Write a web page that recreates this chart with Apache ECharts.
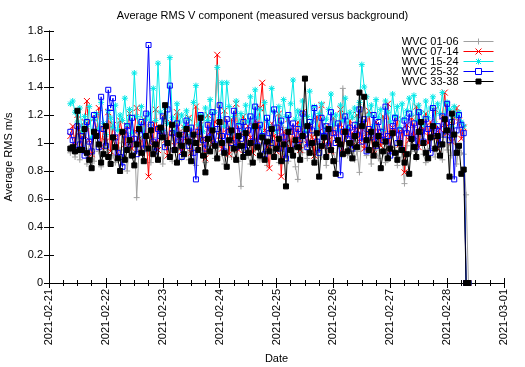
<!DOCTYPE html>
<html>
<head>
<meta charset="utf-8">
<script src="https://cdn.jsdelivr.net/npm/echarts@6/dist/echarts.min.js"></script>
<style>
html,body{margin:0;padding:0;background:#fff;}
#chart{width:525px;height:367px;}
</style>
</head>
<body>
<div id="chart"></div>
<script>
// ---- data (hourly samples, first sample 2021-02-21 09:00) ----
const titleText = 'Average RMS V component (measured versus background)';
const xAxisName = 'Date';
const yAxisName = 'Average RMS m/s';
const seriesNames = ['WVC 01-06', 'WVC 07-14', 'WVC 15-24', 'WVC 25-32', 'WVC 33-38'];
const xTickLabels = ['2021-02-21','2021-02-22','2021-02-23','2021-02-24','2021-02-25','2021-02-26','2021-02-27','2021-02-28','2021-03-01'];
const yTickLabels = ['0','0.2','0.4','0.6','0.8','1','1.2','1.4','1.6','1.8'];
const startHour = 9;   // hours after 2021-02-21 00:00 of the first sample
const stepHours = 1;   // sampling step

const wvc01_06 = [
0.93,0.98,0.90,1.05,0.88,1.12,0.96,0.85,1.01,0.92,0.87,1.10,0.94,0.83,1.03,0.97,0.89,1.15,0.91,0.86,1.00,0.95,0.84,1.07,
0.80,0.99,0.92,1.08,0.61,0.95,1.02,0.88,1.13,0.93,0.86,1.04,0.97,0.90,1.11,0.85,0.99,1.06,0.92,0.87,1.02,0.95,1.09,0.89,
0.96,1.03,0.88,0.93,1.10,0.84,0.99,1.05,0.91,0.86,1.01,0.94,1.16,0.89,0.97,1.07,0.92,0.85,1.00,1.12,0.90,0.95,1.04,0.87,
0.69,0.98,1.06,0.91,0.85,1.02,0.95,1.14,0.88,0.93,1.00,0.84,1.09,0.97,0.90,1.05,0.86,0.94,1.11,0.92,0.87,1.01,0.96,0.83,
0.74,1.04,0.93,1.08,0.89,0.97,1.12,0.86,0.95,1.01,0.90,1.06,0.84,0.98,1.10,0.93,0.87,1.03,0.96,1.39,1.15,0.91,0.99,1.05,
0.88,0.94,0.79,1.07,0.97,0.91,1.02,0.85,1.10,0.95,0.89,1.04,0.93,0.86,1.00,1.08,0.92,0.97,0.84,1.03,0.90,0.71,0.98,1.06,
0.94,1.11,0.89,0.99,1.05,0.92,0.86,1.02,0.96,1.09,0.90,0.97,1.04,0.88,1.13,0.95,1.00,0.91,1.07,0.85,0.98,0.93,0.92,
0.63,0
];
const wvc07_14 = [
1.05,1.12,0.98,1.20,1.08,0.95,1.15,1.30,1.02,0.92,1.18,1.06,1.25,0.97,1.10,1.01,1.22,0.94,1.13,1.04,0.90,1.16,1.07,0.99,
1.12,1.21,0.96,1.08,1.25,1.03,0.93,1.17,1.06,0.76,1.14,1.00,1.24,0.95,1.09,1.19,1.02,0.91,1.15,1.07,0.98,1.22,1.04,0.94,
1.11,1.01,1.18,0.93,1.06,1.26,0.97,1.13,1.03,0.89,1.20,1.08,0.99,1.15,1.63,1.05,0.96,1.23,1.10,0.92,1.17,1.01,1.28,0.95,
1.07,1.19,0.98,1.12,1.04,0.93,1.16,1.02,1.25,1.43,1.09,0.97,0.82,1.14,1.05,0.94,1.21,0.76,1.08,1.00,1.17,0.96,1.11,1.03,
1.15,0.95,1.22,1.06,0.99,1.13,1.04,0.91,1.19,1.08,1.27,0.97,1.12,1.02,0.94,1.18,1.07,1.00,1.24,0.93,1.10,1.05,1.16,0.98,
1.09,1.20,1.01,1.14,0.96,1.07,1.23,1.03,0.92,1.15,1.08,0.98,1.19,1.04,1.28,0.95,1.11,1.06,1.17,0.99,1.10,0.79,1.13,1.02,
1.18,1.05,1.26,0.97,1.12,1.08,1.21,1.00,1.15,1.04,1.24,0.96,1.10,1.19,1.36,1.07,1.14,1.01,1.18,1.25,1.16,1.03,1.11,
0,0
];
const wvc15_24 = [
1.28,1.30,1.22,1.15,1.25,1.08,1.19,1.12,1.26,1.04,1.17,1.21,1.10,1.29,1.14,1.06,1.23,1.18,1.11,1.27,1.09,1.20,1.16,1.32,
1.13,1.24,1.07,1.50,1.19,1.12,1.26,1.05,1.17,1.21,1.10,1.39,1.16,1.57,1.22,1.09,1.25,1.14,1.61,1.18,1.08,1.28,1.15,1.20,
1.11,1.23,1.17,1.06,1.29,1.41,1.13,1.20,1.08,1.25,1.16,1.31,1.10,1.22,1.54,1.18,1.43,1.12,1.43,1.26,1.07,1.19,1.30,1.14,
1.21,1.09,1.27,1.15,1.33,1.11,1.38,1.18,1.24,1.06,1.29,1.16,1.12,1.39,1.22,1.08,1.26,1.14,1.31,1.19,1.10,1.28,1.45,1.17,
1.23,1.12,1.30,1.08,1.19,1.37,1.15,1.26,1.10,1.21,1.28,1.06,1.17,1.24,1.35,1.13,1.20,1.09,1.27,1.16,1.32,1.11,1.22,1.18,
1.25,1.14,1.29,1.56,1.40,1.33,1.20,1.27,1.12,1.31,1.18,1.24,1.09,1.30,1.22,1.15,1.35,1.19,1.26,1.11,1.28,1.17,1.23,1.32,
1.20,1.34,1.16,1.27,1.22,1.13,1.30,1.18,1.25,1.33,1.14,1.28,1.21,1.36,1.17,1.29,1.24,1.12,1.26,1.19,1.22,1.15,1.12,
0,0
];
const wvc25_32 = [
1.08,1.02,0.95,1.12,0.99,1.05,0.91,1.15,1.01,0.94,1.20,1.07,0.97,1.33,1.10,0.98,1.38,1.25,1.32,1.04,0.93,0.90,0.83,1.06,
1.12,0.99,1.18,1.03,0.92,1.09,1.15,0.96,1.21,1.70,1.13,1.01,0.94,1.10,1.05,1.19,0.97,1.24,1.41,1.07,0.95,1.14,1.02,0.90,
1.06,1.16,0.98,1.11,0.93,0.74,1.08,1.20,1.02,0.96,1.13,1.04,1.22,0.99,1.10,1.27,1.05,0.94,1.17,1.08,1.00,1.23,0.97,1.12,
1.03,1.15,0.95,1.09,1.19,1.01,1.26,0.98,1.13,1.05,0.92,1.18,1.07,1.00,1.24,1.11,0.96,1.16,1.04,0.89,1.20,1.08,1.14,0.99,
1.10,1.02,1.21,1.06,0.97,1.15,1.09,1.25,1.01,0.93,1.18,1.05,1.12,0.98,1.22,1.07,1.00,1.14,0.77,1.08,1.19,1.03,1.11,0.96,
1.13,1.06,1.24,1.01,1.17,0.94,1.10,1.04,1.20,0.98,1.15,1.08,1.02,1.26,1.05,0.91,1.12,1.18,1.00,1.09,0.95,1.16,1.07,1.21,
1.03,1.14,0.97,1.22,1.08,1.01,1.17,1.10,0.93,1.25,1.05,1.12,0.99,1.19,1.06,1.28,1.02,1.15,0.74,1.09,1.20,1.13,1.07,
0,0
];
const wvc33_38 = [
0.96,0.97,0.94,1.23,0.95,0.95,1.10,0.93,0.88,0.82,1.08,1.05,0.99,0.86,0.92,1.12,0.90,0.85,1.04,0.97,0.89,0.80,1.08,0.88,
0.95,1.02,0.91,0.84,0.99,1.10,0.93,0.87,1.05,0.96,1.09,0.92,0.99,0.88,1.11,1.04,1.27,1.00,0.90,1.13,0.95,0.86,1.06,0.98,
0.92,1.10,1.01,0.87,1.06,1.00,0.95,1.18,0.91,0.79,1.03,0.94,1.09,0.98,0.89,1.15,1.00,0.93,0.83,1.02,1.09,0.96,0.88,1.05,
0.98,0.90,1.07,0.93,1.00,0.86,1.12,0.97,0.91,1.04,0.88,1.01,0.94,1.10,0.90,0.96,1.03,0.87,0.99,0.69,1.08,0.95,0.91,1.02,
0.97,0.88,1.05,1.46,1.12,0.93,1.00,0.86,1.07,0.76,0.98,1.04,0.90,1.10,0.95,0.87,0.78,1.02,0.99,0.92,1.08,0.94,1.00,0.89,
1.05,0.97,1.36,1.12,1.33,1.02,0.95,1.08,0.91,0.99,1.05,0.82,0.94,1.01,0.89,0.96,1.07,0.93,0.88,1.00,0.95,0.86,0.92,0.78,
1.03,0.97,0.90,1.08,1.15,1.00,0.93,0.89,1.04,1.12,0.96,1.05,0.91,0.99,1.17,1.09,0.76,1.21,1.06,0.93,0.98,0.78,0.81,
0,0
];

const FONT = '"Liberation Sans", Arial, sans-serif';
const seriesValues = [wvc01_06, wvc07_14, wvc15_24, wvc25_32, wvc33_38];
const colors = ['#a0a0a0', '#ff0000', '#00e8e8', '#0000ff', '#000000'];
const symbols = [
  'path://M0,4L8,4M4,0L4,8',
  'path://M0,0L8,8M8,0L0,8',
  'path://M0,4L8,4M4,0L4,8M1,1L7,7M7,1L1,7',
  'path://M0,0L8,0L8,8L0,8Z',
  'rect'
];
// legend samples: a line with the point marker in its middle (30 x 6 box)
const legendIcons = [
  'path://M0,3L30,3M15,0L15,6',
  'path://M0,3L30,3M12,0L18,6M18,0L12,6',
  'path://M0,3L30,3M15,0L15,6M12.5,0.5L17.5,5.5M17.5,0.5L12.5,5.5',
  'path://M0,3L12,3M18,3L30,3M12,0L18,0L18,6L12,6Z',
  'path://M0,3L30,3M12.5,0.5L17.5,0.5L17.5,5.5L12.5,5.5Z'
];
const fills = ['#a0a0a0', '#ff0000', '#00e8e8', 'rgba(0,0,0,0)', '#000000'];
const sizes = [6, 6, 6, 5, 5];

const chart = echarts.init(document.getElementById('chart'), null, {renderer: 'canvas'});

const series = seriesNames.map((name, k) => ({
  name: name,
  type: 'line',
  xAxisIndex: 0,
  yAxisIndex: 0,
  data: seriesValues[k].map((v, i) => [startHour + i * stepHours, v]),
  showAllSymbol: true,
  symbol: symbols[k],
  symbolSize: sizes[k],
  lineStyle: {color: colors[k], width: 1},
  itemStyle: {color: fills[k], borderColor: colors[k], borderWidth: 1},
  emphasis: {disabled: true},
  animation: false,
  z: 2 + k
}));

const legendData = seriesNames.map((name, k) => ({
  name: name,
  icon: legendIcons[k],
  itemStyle: {color: fills[k], borderColor: colors[k], borderWidth: 1, opacity: 1}
}));

const xBase = {
  type: 'value', min: 0, max: 192, interval: 24,
  axisLine: {show: true, lineStyle: {color: '#000', width: 1}},
  axisTick: {show: true, inside: true, length: 5, lineStyle: {color: '#000'}},
  minorTick: {show: true, splitNumber: 4, length: 3, lineStyle: {color: '#000'}},
  splitLine: {show: false}
};
const yBase = {
  type: 'value', min: 0, max: 1.8, interval: 0.2,
  axisLine: {show: true, lineStyle: {color: '#000', width: 1}},
  axisTick: {show: true, inside: true, length: 5, lineStyle: {color: '#000'}},
  splitLine: {show: false}
};

chart.setOption({
  backgroundColor: '#fff',
  animation: false,
  title: {
    text: titleText, left: 'center', top: 5,
    textStyle: {fontFamily: FONT, fontSize: 11, fontWeight: 'normal', color: '#000'}
  },
  grid: {left: 49, right: 21, top: 31, bottom: 84, containLabel: false, outerBoundsMode: 'none'},
  legend: {
    orient: 'vertical', right: 26, top: 31, align: 'right',
    itemWidth: 30, itemHeight: 6, itemGap: -1,
    selectedMode: false,
    textStyle: {fontFamily: FONT, fontSize: 11, color: '#000', lineHeight: 10.5},
    data: legendData
  },
  xAxis: [
    Object.assign({}, xBase, {
      position: 'bottom',
      name: xAxisName, nameLocation: 'middle', nameGap: 70,
      nameTextStyle: {fontFamily: FONT, fontSize: 11, color: '#000'},
      axisLabel: {
        rotate: 90, margin: 6, fontFamily: FONT, fontSize: 11, color: '#000',
        formatter: v => xTickLabels[Math.round(v / 24)] || ''
      }
    }),
    Object.assign({}, xBase, {position: 'top', axisLabel: {show: false}})
  ],
  yAxis: [
    Object.assign({}, yBase, {
      position: 'left',
      name: yAxisName, nameLocation: 'middle', nameGap: 35,
      nameTextStyle: {fontFamily: FONT, fontSize: 11, color: '#000'},
      axisLabel: {
        margin: 6, fontFamily: FONT, fontSize: 11, color: '#000',
        formatter: v => yTickLabels[Math.round(v / 0.2)]
      }
    }),
    Object.assign({}, yBase, {position: 'right', axisLabel: {show: false}})
  ],
  series: series
});
</script>
</body>
</html>
